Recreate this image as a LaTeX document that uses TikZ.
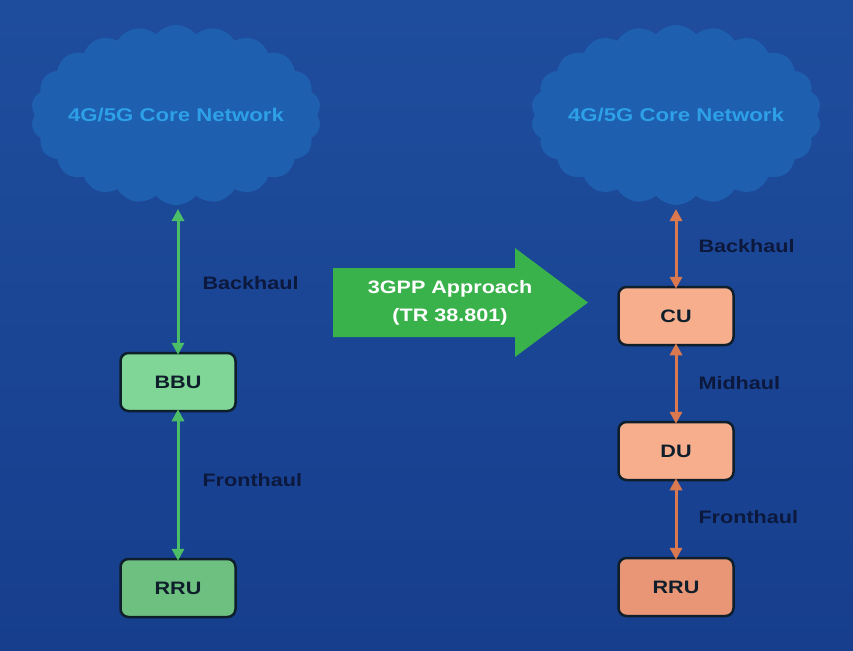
\documentclass[tikz,border=0pt]{standalone}
\usepackage{fontspec}
\setmainfont{Liberation Sans}[FakeStretch=1.2]
\usetikzlibrary{shapes.symbols,arrows.meta}
\definecolor{bgtop}{RGB}{31,77,157}
\definecolor{bgbot}{RGB}{22,62,141}
\definecolor{cloudfill}{RGB}{30,95,175}
\definecolor{cloudtext}{RGB}{45,160,232}
\definecolor{navy}{RGB}{12,24,60}
\definecolor{boxline}{RGB}{14,30,42}
\definecolor{greenbox}{RGB}{128,214,150}
\definecolor{greenboxd}{RGB}{110,192,128}
\definecolor{greenline}{RGB}{76,190,104}
\definecolor{bigarrow}{RGB}{58,178,76}
\definecolor{peach}{RGB}{246,174,140}
\definecolor{peachd}{RGB}{232,150,118}
\definecolor{orangeline}{RGB}{218,120,80}
\tikzset{
  corecloud/.style={cloud, cloud puffs=22, cloud puff arc=100, aspect=1.6,
    minimum width=290pt, minimum height=180pt, fill=cloudfill, inner sep=0pt},
  cloudlbl/.style={text=cloudtext, font=\bfseries\fontsize{18.5}{20}\selectfont},
  unitbox/.style={rounded corners=8pt, draw=boxline, line width=2.5pt,
    minimum width=115pt, minimum height=58pt, font=\bfseries\fontsize{18}{20}\selectfont, text=boxline},
  lbl/.style={font=\bfseries\fontsize{18}{20}\selectfont, text=navy, anchor=west},
  garrow/.style={draw=greenline, line width=3pt, {Triangle[width=12pt,length=12pt]}-{Triangle[width=12pt,length=12pt]}},
  oarrow/.style={draw=orangeline, line width=3pt, {Triangle[width=12pt,length=12pt]}-{Triangle[width=12pt,length=12pt]}},
}
\begin{document}
\begin{tikzpicture}[x=1pt,y=-1pt]
\shade[top color=bgtop, bottom color=bgbot] (0,0) rectangle (853,650);
\useasboundingbox (0,0) rectangle (853,650);
% clouds
\node[corecloud] (cloudL) at (176,115) {};
\node[cloudlbl] (cloudLtxt) at (cloudL.center) {4G/5G Core Network};
\node[corecloud] (cloudR) at (676,115) {};
\node[cloudlbl] (cloudRtxt) at (cloudR.center) {4G/5G Core Network};
% left side
\node[unitbox, fill=greenbox] (bbu) at (178,382) {BBU};
\node[unitbox, fill=greenboxd] (rruL) at (178,588) {RRU};
\coordinate (bhL) at (178,209);
\draw[garrow] (bhL) -- ([yshift=-3pt]bbu.north);
\draw[garrow] ([yshift=3pt]bbu.south) -- ([yshift=-3pt]rruL.north);
\node[lbl] (bhLlbl) at (199,283) {Backhaul};
\node[lbl] (fhLlbl) at (199,480) {Fronthaul};
% big arrow
\fill[bigarrow] (333,268) -- (515,268) -- (515,248) -- (588,302.5) -- (515,357) -- (515,337) -- (333,337) -- cycle;
\node[align=center, text=white, font=\bfseries\fontsize{18}{28}\selectfont] (approach) at (450,303) {3GPP Approach\\(TR 38.801)};
% right side
\node[unitbox, fill=peach] (cu) at (676,316) {CU};
\node[unitbox, fill=peach] (du) at (676,451) {DU};
\node[unitbox, fill=peachd] (rruR) at (676,587) {RRU};
\coordinate (bhR) at (676,209);
\draw[oarrow] (bhR) -- ([yshift=-3pt]cu.north);
\draw[oarrow] ([yshift=3pt]cu.south) -- ([yshift=-3pt]du.north);
\draw[oarrow] ([yshift=3pt]du.south) -- ([yshift=-3pt]rruR.north);
\node[lbl] (bhRlbl) at (695,246) {Backhaul};
\node[lbl] (mhRlbl) at (695,383) {Midhaul};
\node[lbl] (fhRlbl) at (695,517) {Fronthaul};
\end{tikzpicture}
\end{document}
